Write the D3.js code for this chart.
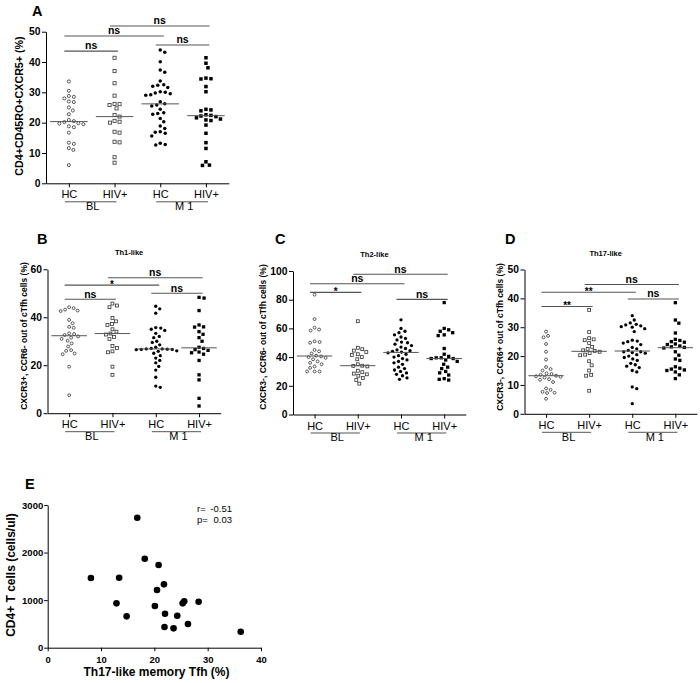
<!DOCTYPE html>
<html><head><meta charset="utf-8">
<script src="https://cdn.jsdelivr.net/npm/d3@7"></script>
<style>
body{margin:0;background:#fff;}
svg{display:block;font-family:"Liberation Sans",Arial,Helvetica,sans-serif;}
</style></head><body>
<svg id="chart" width="700" height="683"></svg>
<script>
// ---------- DATA ----------
const categories = ["HC", "HIV+", "HC", "HIV+"];
const groups = ["BL", "M 1"];
const markerTypes = ["openCircle", "openSquare", "filledCircle", "filledSquare"];

// Panel A: CD4+CD45RO+CXCR5+ (%)
const aHcBl  = [33.6, 30.5, 28.8, 28.5, 28.0, 27.0, 26.8, 25.0, 24.0, 22.8, 20.9, 20.5, 20.2, 19.8, 19.7, 19.5, 18.8, 18.5, 16.7, 13.4, 13.0, 11.6, 11.0, 6.0];
const aHivBl = [41.4, 37.0, 33.0, 28.9, 26.2, 26.1, 25.8, 24.7, 22.5, 22.0, 20.6, 20.3, 20.0, 17.0, 16.7, 13.7, 13.5, 8.6, 6.8];
const aHcM1  = [44.0, 43.2, 40.1, 37.4, 36.6, 33.7, 32.5, 32.3, 32.0, 31.6, 30.2, 30.0, 29.8, 29.5, 29.2, 29.0, 26.9, 26.2, 25.8, 25.5, 24.4, 23.3, 23.0, 22.8, 21.4, 20.3, 18.9, 18.1, 17.0, 16.8, 16.5, 15.6, 13.2, 12.8, 12.6];
const aHivM1 = [41.4, 39.6, 38.1, 34.7, 34.5, 34.4, 31.9, 30.2, 24.4, 24.2, 23.9, 22.6, 22.4, 22.2, 22.0, 21.6, 21.2, 20.9, 20.7, 19.2, 16.5, 13.4, 11.5, 7.1, 6.0, 5.9];
const aTicks = [0, 10, 20, 30, 40, 50];
const aSig = [
  {from: 0, to: 1, y: 43.6, label: "ns"},
  {from: 0, to: 2, y: 48.6, label: "ns"},
  {from: 1, to: 3, y: 51.9, label: "ns"},
  {from: 2, to: 3, y: 45.6, label: "ns"}
];

// Panel B: Th1-like
const bHcBl  = [44.2, 43.8, 43.2, 42.8, 42.6, 38.9, 37.5, 36.0, 35.6, 33.3, 33.0, 32.6, 32.0, 31.5, 31.0, 30.2, 29.1, 27.8, 26.3, 26.0, 24.9, 24.6, 19.4, 7.5];
const bHivBl = [45.7, 44.9, 44.2, 39.7, 38.3, 37.2, 36.8, 35.0, 34.0, 33.2, 32.8, 31.8, 30.9, 28.0, 27.2, 25.8, 25.4, 19.4, 16.0];
const bHcM1  = [44.6, 43.5, 41.7, 35.7, 35.5, 35.0, 34.5, 33.3, 32.0, 31.5, 30.0, 29.5, 28.5, 27.5, 27.0, 26.8, 26.8, 26.7, 26.6, 26.6, 26.5, 26.0, 25.8, 25.0, 24.0, 23.0, 22.0, 21.0, 19.5, 18.0, 15.0, 11.3, 10.8];
const bHivM1 = [48.3, 48.0, 42.8, 36.8, 36.0, 35.9, 34.0, 32.9, 31.5, 30.0, 27.5, 27.0, 26.5, 26.2, 25.5, 25.2, 24.6, 22.0, 16.0, 13.9, 6.2, 3.0];
const bTicks = [0, 20, 40, 60];
const bSig = [
  {from: 0, to: 1, y: 47.5, label: "ns"},
  {from: 0, to: 2, y: 53.4, label: "*"},
  {from: 1, to: 3, y: 56.5, label: "ns"},
  {from: 2, to: 3, y: 50.0, label: "ns"}
];

// Panel C: Th2-like
const cHcBl  = [83.5, 66.5, 60.5, 59.2, 58.5, 51.0, 50.5, 50.0, 45.0, 44.0, 42.5, 41.0, 40.5, 40.0, 39.5, 38.5, 37.0, 36.0, 35.0, 33.5, 32.5, 30.0, 30.0, 30.0];
const cHivBl = [65.0, 46.5, 45.5, 44.5, 43.5, 42.0, 41.5, 40.0, 38.5, 35.0, 33.9, 34.0, 33.5, 30.5, 29.5, 28.5, 28.0, 27.0, 25.5, 24.0, 21.5];
const cHcM1  = [66.0, 60.0, 58.0, 57.0, 55.5, 54.0, 53.0, 52.0, 50.5, 50.0, 49.0, 48.0, 47.0, 46.0, 45.0, 44.5, 44.0, 43.5, 43.0, 42.0, 41.0, 40.0, 39.0, 38.0, 37.0, 36.0, 35.0, 33.0, 32.0, 31.0, 30.0, 29.0, 28.0, 27.0, 25.5, 24.5];
const cHivM1 = [78.0, 60.0, 59.0, 58.0, 57.0, 55.5, 55.0, 46.0, 42.0, 40.5, 39.5, 39.5, 39.0, 39.0, 38.0, 37.0, 35.0, 33.0, 32.0, 30.0, 29.0, 27.5, 25.0, 24.5, 24.0];
const cTicks = [0, 20, 40, 60, 80, 100];
const cSig = [
  {from: 0, to: 1, y: 85.1, label: "*"},
  {from: 0, to: 2, y: 91.1, label: "ns"},
  {from: 1, to: 3, y: 97.7, label: "ns"},
  {from: 2, to: 3, y: 80.2, label: "ns"}
];

// Panel D: Th17-like
const dHcBl  = [28.5, 27.0, 26.5, 24.2, 21.5, 18.8, 16.2, 15.5, 15.0, 14.0, 13.8, 13.5, 13.2, 13.0, 12.8, 12.5, 12.0, 11.8, 11.0, 8.8, 8.3, 7.6, 7.3, 7.2, 5.2];
const dHivBl = [36.0, 28.3, 26.2, 25.8, 25.5, 24.5, 23.2, 22.5, 22.0, 21.8, 21.5, 21.0, 20.5, 20.3, 18.2, 16.8, 15.0, 13.5, 13.2, 8.0];
const dHcM1  = [34.0, 32.5, 31.5, 31.0, 30.8, 30.5, 30.2, 30.0, 29.5, 28.5, 25.5, 25.2, 25.0, 24.5, 24.0, 23.0, 22.5, 22.0, 21.5, 21.5, 21.2, 21.0, 20.5, 20.0, 19.5, 19.0, 18.5, 17.5, 17.0, 16.5, 16.0, 15.0, 14.5, 9.3, 8.7, 3.5];
const dHivM1 = [38.5, 32.5, 31.4, 28.0, 25.8, 25.4, 25.0, 24.8, 24.2, 24.0, 23.5, 23.2, 23.0, 22.8, 21.5, 20.3, 19.0, 18.5, 16.3, 15.8, 15.5, 15.2, 15.0, 14.5, 13.5, 12.2];
const dTicks = [0, 10, 20, 30, 40, 50];
const dSig = [
  {from: 0, to: 1, y: 37.2, label: "**"},
  {from: 0, to: 2, y: 42.1, label: "**"},
  {from: 1, to: 3, y: 44.8, label: "ns"},
  {from: 2, to: 3, y: 39.8, label: "ns"}
];

// Panel E: correlation
const eTh17 = [16.8, 18.2, 20.8, 8.1, 13.4, 21.8, 20.5, 12.9, 20.1, 14.8, 22.0, 24.3, 25.3, 25.6, 28.3, 21.9, 23.6, 26.3, 36.2];
const eCd4  = [2733, 1871, 1738, 1465, 1472, 1332, 1213, 932, 876, 659, 715, 673, 932, 974, 967, 435, 407, 498, 336];
const eXTicks = [0, 10, 20, 30, 40];
const eYTicks = [0, 1000, 2000, 3000];
const eStats = [["r=", "-0.51"], ["p=", "0.03"]];

// ---------- DRAWING ----------
const svg = d3.select("#chart");
const LINE = "#555";
const FONT = "Liberation Sans, Arial, sans-serif";

function swarm(values, y, cx, minDist) {
  const pts = values.map(v => ({v, py: y(v)})).sort((a, b) => a.py - b.py);
  const placed = [];
  pts.forEach(p => {
    for (let k = 0; k < 400; k++) {
      const o = k === 0 ? 0 : (k % 2 ? 1 : -1) * Math.ceil(k / 2) * 0.5;
      const px = cx + o;
      if (placed.every(q => Math.hypot(q.px - px, q.py - p.py) >= minDist)) {
        p.px = px; placed.push(p); break;
      }
    }
  });
  return placed;
}

function drawMarker(g, type, x, y, s) {
  if (type === "openCircle") {
    g.append("circle").attr("cx", x).attr("cy", y).attr("r", s / 2 - 0.3)
      .attr("fill", "#fff").attr("stroke", "#333").attr("stroke-width", 0.8);
  } else if (type === "openSquare") {
    g.append("rect").attr("x", x - s / 2 + 0.3).attr("y", y - s / 2 + 0.3)
      .attr("width", s - 0.6).attr("height", s - 0.6)
      .attr("fill", "#fff").attr("stroke", "#333").attr("stroke-width", 0.8);
  } else if (type === "filledCircle") {
    g.append("circle").attr("cx", x).attr("cy", y).attr("r", s / 2 - 0.1).attr("fill", "#000");
  } else {
    g.append("rect").attr("x", x - s / 2 + 0.1).attr("y", y - s / 2 + 0.1)
      .attr("width", s - 0.2).attr("height", s - 0.2).attr("fill", "#000");
  }
}

function dotPanel(cfg) {
  const g = svg.append("g");
  const x = d3.scalePoint().domain(d3.range(categories.length))
    .range([cfg.axisX, cfg.axisX + 4 * cfg.step]).padding(0.5);
  const y = d3.scaleLinear().domain([0, d3.max(cfg.ticks)]).range([cfg.y0, cfg.yTop]);
  const step = x.step();

  // y axis
  const ya = g.append("g").attr("transform", `translate(${cfg.axisX},0)`)
    .call(d3.axisLeft(y).tickValues(cfg.ticks).tickSize(4).tickPadding(1.5).tickSizeOuter(0));
  ya.selectAll("text").attr("font-size", 10.3).attr("font-weight", "bold").attr("fill", "#000")
    .attr("font-family", FONT);
  ya.selectAll("line,path").attr("stroke", "#000");

  // x axis
  const xa = g.append("g").attr("transform", `translate(0,${cfg.y0})`)
    .call(d3.axisBottom(x).tickSize(4).tickPadding(3.2).tickSizeOuter(0).tickFormat(i => categories[i]));
  xa.selectAll("text").attr("font-size", 11).attr("fill", "#000")
    .attr("font-family", FONT);
  xa.selectAll("line,path").attr("stroke", "#000");

  // group lines
  groups.forEach((gr, gi) => {
    const x1 = x(gi * 2) - 4, x2 = x(gi * 2 + 1) + 2;
    g.append("line").attr("x1", x1).attr("x2", x2)
      .attr("y1", cfg.y0 + 18.5).attr("y2", cfg.y0 + 18.5)
      .attr("stroke", LINE).attr("stroke-width", 1);
    g.append("text").attr("x", (x(gi * 2) + x(gi * 2 + 1)) / 2 + 1).attr("y", cfg.y0 + 26.8)
      .attr("text-anchor", "middle").attr("font-size", 11).text(gr);
  });

  // points + medians
  cfg.series.forEach((vals, i) => {
    const pts = swarm(vals, y, x(i), cfg.minDist);
    pts.forEach(p => drawMarker(g, markerTypes[i], p.px, p.py, cfg.ms));
    const m = d3.median(vals);
    g.append("line").attr("x1", x(i) - step * 0.41).attr("x2", x(i) + step * 0.41)
      .attr("y1", y(m)).attr("y2", y(m)).attr("stroke", LINE).attr("stroke-width", 1);
  });

  // significance bars
  cfg.sig.forEach(s => {
    const x1 = x(s.from) - 4.5, x2 = x(s.to) + 3.5, yy = y(s.y);
    g.append("line").attr("x1", x1).attr("x2", x2).attr("y1", yy).attr("y2", yy)
      .attr("stroke", LINE).attr("stroke-width", 1.1);
    const star = s.label.indexOf("*") >= 0;
    g.append("text").attr("x", (x1 + x2) / 2).attr("y", star ? yy + 3 : yy - 1.7)
      .attr("text-anchor", "middle").attr("font-weight", "bold")
      .attr("font-size", star ? 10 : 10.5).text(s.label);
  });

  // title
  if (cfg.title) {
    g.append("text").attr("x", (x(0) + x(3)) / 2 - 5).attr("y", cfg.yTop - 14)
      .attr("text-anchor", "middle").attr("font-weight", "bold").attr("font-size", 7.5)
      .text(cfg.title);
  }
  // y title
  g.append("text").attr("transform", `translate(${cfg.yTitleX},${cfg.yTitleY}) rotate(-90)`)
    .attr("text-anchor", "middle").attr("font-weight", "bold").attr("font-size", cfg.yTitleSize)
    .text(cfg.yTitle);
  // letter
  g.append("text").attr("x", cfg.letterX).attr("y", cfg.letterY)
    .attr("font-weight", "bold").attr("font-size", 14.5).text(cfg.letter);
}

dotPanel({letter: "A", letterX: 32, letterY: 15.5, series: [aHcBl, aHivBl, aHcM1, aHivM1],
  ticks: aTicks, sig: aSig, axisX: 46, step: 45.7, y0: 183.3, yTop: 31.7,
  yTitle: "CD4+CD45RO+CXCR5+ (%)", yTitleX: 22.5, yTitleY: 106, yTitleSize: 10.7,
  ms: 3.7, minDist: 4.8});
dotPanel({letter: "B", letterX: 37, letterY: 243.5, series: [bHcBl, bHivBl, bHcM1, bHivM1],
  ticks: bTicks, sig: bSig, axisX: 47.5, step: 43.3, y0: 413.2, yTop: 269.3, title: "Th1-like",
  yTitle: "CXCR3+, CCR6- out of cTfh cells (%)", yTitleX: 26.5, yTitleY: 336, yTitleSize: 8.5,
  ms: 3.5, minDist: 4.6});
dotPanel({letter: "C", letterX: 275, letterY: 243.5, series: [cHcBl, cHivBl, cHcM1, cHivM1],
  ticks: cTicks, sig: cSig, axisX: 293, step: 43.2, y0: 414.5, yTop: 271, title: "Th2-like",
  yTitle: "CXCR3-, CCR6- out of cTfh cells (%)", yTitleX: 266, yTitleY: 337, yTitleSize: 8.5,
  ms: 3.5, minDist: 4.6});
dotPanel({letter: "D", letterX: 505, letterY: 243.5, series: [dHcBl, dHivBl, dHcM1, dHivM1],
  ticks: dTicks, sig: dSig, axisX: 524.5, step: 43.1, y0: 413.8, yTop: 269.5, title: "Th17-like",
  yTitle: "CXCR3-, CCR6+ out of cTfh cells (%)", yTitleX: 502.5, yTitleY: 337, yTitleSize: 8.5,
  ms: 3.5, minDist: 4.6});

// Panel E
(function () {
  const g = svg.append("g");
  const x = d3.scaleLinear().domain([0, 40]).range([47.7, 261]);
  const y = d3.scaleLinear().domain([0, 3000]).range([647.7, 505]);
  const ya = g.append("g").attr("transform", "translate(47.7,0)")
    .call(d3.axisLeft(y).tickValues(eYTicks).tickFormat(d3.format("d"))
      .tickSize(3.5).tickPadding(1).tickSizeOuter(0));
  const xa = g.append("g").attr("transform", "translate(0,647.7)")
    .call(d3.axisBottom(x).tickValues(eXTicks).tickFormat(d3.format("d"))
      .tickSize(3.5).tickPadding(5).tickSizeOuter(0));
  [ya, xa].forEach(a => {
    a.selectAll("text").attr("font-size", 9.5).attr("font-weight", "bold").attr("fill", "#000")
      .attr("font-family", FONT);
    a.selectAll("line,path").attr("stroke", "#000");
  });
  eTh17.forEach((v, i) => {
    g.append("circle").attr("cx", x(v)).attr("cy", y(eCd4[i])).attr("r", 3.3).attr("fill", "#000");
  });
  eStats.forEach((s, i) => {
    g.append("text").attr("x", 197).attr("y", 512 + i * 11).attr("font-size", 9.5).text(s[0]);
    g.append("text").attr("x", 232).attr("y", 512 + i * 11).attr("font-size", 9.5)
      .attr("text-anchor", "end").text(s[1]);
  });
  g.append("text").attr("x", 156.5).attr("y", 676).attr("text-anchor", "middle")
    .attr("font-weight", "bold").attr("font-size", 12).text("Th17-like memory Tfh (%)");
  g.append("text").attr("transform", "translate(14.5,575) rotate(-90)").attr("text-anchor", "middle")
    .attr("font-weight", "bold").attr("font-size", 12).text("CD4+ T cells (cells/ul)");
  g.append("text").attr("x", 25).attr("y", 488.5).attr("font-weight", "bold")
    .attr("font-size", 14.5).text("E");
})();
</script>
</body></html>
